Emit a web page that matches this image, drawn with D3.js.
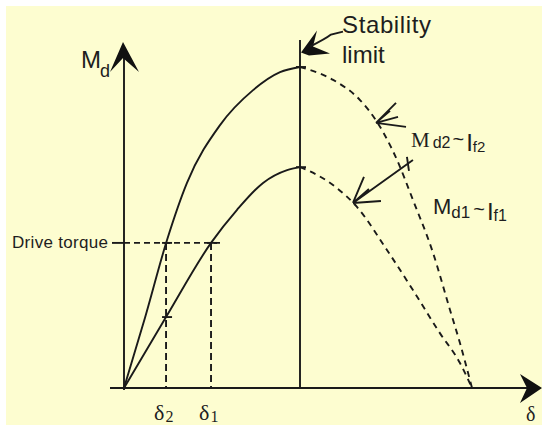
<!DOCTYPE html>
<html>
<head>
<meta charset="utf-8">
<script src="https://cdn.jsdelivr.net/npm/d3@7"></script>
<style>
  body { margin: 0; background: #fff; }
  svg { display: block; }
  .ink { stroke: #1a1a1a; fill: none; stroke-width: 1.9; }
</style>
</head>
<body>
<div id="chart"></div>
<script>
// load angle (deg) vs torque (normalised to the upper peak)
var upperRise = [[0,0],[10.7,0.218],[22,0.461],[32.2,0.639],[49.1,0.819],[66,0.928],[79.8,0.984],[90,1]]
var upperFall = [[90,1],[107.3,0.96],[121.4,0.897],[130.3,0.829],[140.8,0.71],[149.1,0.586],[159.6,0.421],[168.5,0.243],[173.7,0.14],[180,0]]
var lowerRise = [[0,0],[21.5,0.221],[44.5,0.452],[57.8,0.555],[71.1,0.639],[83.4,0.679],[90,0.688]]
var lowerFall = [[90,0.688],[98.9,0.664],[109.3,0.623],[119.8,0.564],[135.5,0.43],[149.1,0.305],[163.2,0.171],[173.7,0.078],[180,0]]

var driveTorque = 0.452
var delta2 = 21.5
var delta1 = 44.5
var stabilityAngle = 90

var width = 542, height = 425

var svg = d3.select('#chart').append('svg')
  .attr('width', width)
  .attr('height', height)

svg.append('rect').attr('width', width).attr('height', height).attr('fill', '#fff')
svg.append('rect').attr('x', 6).attr('y', 6)
  .attr('width', width - 6).attr('height', height - 6)
  .attr('fill', '#fdfdd0')

var x = d3.scaleLinear().domain([0, 90, 180]).range([124, 300, 472])
var y = d3.scaleLinear().domain([0, 1]).range([388, 67])

var line = d3.line()
  .x(function(d) { return x(d[0]) })
  .y(function(d) { return y(d[1]) })
  .curve(d3.curveMonotoneX)

// axes
svg.append('line').attr('class', 'ink')
  .attr('x1', x(0)).attr('x2', x(0)).attr('y1', y(0) + 2).attr('y2', 50)
svg.append('line').attr('class', 'ink')
  .attr('x1', 110).attr('x2', 530).attr('y1', y(0)).attr('y2', y(0))

// arrow heads of the axes
svg.append('path')
  .attr('d', 'M' + (x(0) - 1) + ',42 L' + (x(0) + 15) + ',72 L' + (x(0) - 1) + ',58 L' + (x(0) - 14) + ',72 Z')
  .attr('fill', '#111')
svg.append('path')
  .attr('d', 'M542,' + y(0) + ' L520,' + (y(0) - 14) + ' L527,' + y(0) + ' L520,' + (y(0) + 15) + ' Z')
  .attr('fill', '#111')

// stability limit
svg.append('line').attr('class', 'ink')
  .attr('x1', x(stabilityAngle)).attr('x2', x(stabilityAngle))
  .attr('y1', y(0)).attr('y2', y(1.084))

// curves
svg.append('path').datum(upperRise).attr('class', 'ink').attr('d', line)
svg.append('path').datum(lowerRise).attr('class', 'ink').attr('d', line)
svg.append('path').datum(upperFall).attr('class', 'ink').attr('stroke-dasharray', '6,5').attr('d', line)
svg.append('path').datum(lowerFall).attr('class', 'ink').attr('stroke-dasharray', '6,5').attr('d', line)

// drive torque construction
svg.append('line').attr('class', 'ink').attr('stroke-dasharray', '6,4')
  .attr('x1', x(0)).attr('x2', x(delta1) + 9)
  .attr('y1', y(driveTorque)).attr('y2', y(driveTorque))
svg.append('line').attr('class', 'ink')
  .attr('x1', x(0) - 12).attr('x2', x(0))
  .attr('y1', y(driveTorque)).attr('y2', y(driveTorque))
;[delta2, delta1].forEach(function(dl) {
  svg.append('line').attr('class', 'ink').attr('stroke-dasharray', '7,4')
    .attr('x1', x(dl)).attr('x2', x(dl))
    .attr('y1', y(driveTorque)).attr('y2', y(0))
})

// little tick marks where lines meet
var ticks = [[90, 1], [90, 0.688], [delta2, driveTorque], [delta1, driveTorque], [delta2, 0.221]]
ticks.forEach(function(t) {
  svg.append('line').attr('class', 'ink').attr('stroke-width', 1.5)
    .attr('x1', x(t[0]) - 4).attr('x2', x(t[0]) + 6)
    .attr('y1', y(t[1])).attr('y2', y(t[1]))
})

// annotation arrows
var tip = [x(stabilityAngle) + 1, y(1.045)]
svg.append('path')
  .attr('d', 'M' + tip[0] + ',' + tip[1] + ' L' + (tip[0] + 16) + ',' + (tip[1] - 22) +
    ' L' + (tip[0] + 12) + ',' + (tip[1] - 6) + ' L' + (tip[0] + 29) + ',' + (tip[1] + 1) +
    ' L' + (tip[0] + 8) + ',' + (tip[1] + 3) + ' Z')
  .attr('fill', '#111')
svg.append('path').attr('class', 'ink')
  .attr('d', 'M' + (tip[0] + 9) + ',' + (tip[1] - 6) + ' Q' + (tip[0] + 25) + ',' + (tip[1] - 14) + ' ' + (tip[0] + 30) + ',' + (tip[1] - 18) + ' L' + (tip[0] + 42) + ',' + (tip[1] - 21))

var tip2 = [x(130.3) - 1, y(0.829) + 1]
svg.append('path').attr('class', 'ink').attr('stroke-width', 1.7)
  .attr('d', 'M' + tip2[0] + ',' + tip2[1] + ' L' + (tip2[0] + 30) + ',' + (tip2[1] + 4) +
    ' M' + tip2[0] + ',' + tip2[1] + ' L' + (tip2[0] + 20) + ',' + (tip2[1] - 20) +
    ' M' + tip2[0] + ',' + tip2[1] + ' L' + (tip2[0] + 22) + ',' + (tip2[1] - 6) +
    ' M' + tip2[0] + ',' + tip2[1] + ' L' + (tip2[0] + 14) + ',' + (tip2[1] - 12))

var tip1 = [x(119.8) - 4, y(0.564) - 4]
svg.append('path').attr('class', 'ink').attr('stroke-width', 1.8)
  .attr('d', 'M' + tip1[0] + ',' + tip1[1] + ' L' + (tip1[0] + 60) + ',' + (tip1[1] - 43) +
    ' M' + tip1[0] + ',' + tip1[1] + ' L' + (tip1[0] + 11) + ',' + (tip1[1] - 26) +
    ' M' + tip1[0] + ',' + tip1[1] + ' L' + (tip1[0] + 28) + ',' + (tip1[1] - 2) +
    ' M' + tip1[0] + ',' + tip1[1] + ' L' + (tip1[0] + 16) + ',' + (tip1[1] - 14))
// small crossing tick on the upper dashed curve
svg.append('line').attr('class', 'ink').attr('stroke-width', 1.4)
  .attr('x1', tip1[0] + 54).attr('x2', tip1[0] + 56)
  .attr('y1', tip1[1] - 46).attr('y2', tip1[1] - 32)

// text
var sans = '"Liberation Sans", Arial, sans-serif'
var serif = '"Liberation Serif", "Times New Roman", serif'
var textInk = '#1e1e1e'

svg.append('text').attr('x', 342).attr('y', 33)
  .attr('font-family', sans).attr('font-size', 24).attr('fill', textInk)
  .attr('textLength', 89)
  .text('Stability')
svg.append('text').attr('x', 342).attr('y', 63)
  .attr('font-family', sans).attr('font-size', 24).attr('fill', textInk)
  .text('limit')

var md = svg.append('text').attr('x', 81).attr('y', 68)
  .attr('font-family', sans).attr('font-size', 24).attr('fill', textInk)
md.append('tspan').text('M')
md.append('tspan').attr('dx', -1).attr('dy', 9).attr('font-size', 18).text('d')

svg.append('text').attr('x', 12).attr('y', 248)
  .attr('font-family', sans).attr('font-size', 17).attr('fill', textInk)
  .attr('textLength', 96)
  .text('Drive torque')

var l2 = svg.append('text').attr('x', 411).attr('y', 147)
  .attr('font-family', serif).attr('font-size', 21).attr('fill', textInk)
l2.append('tspan').text('M')
l2.append('tspan').attr('dx', 3).attr('dy', 1).attr('font-family', sans).attr('font-size', 16).text('d2')
l2.append('tspan').attr('dx', 2).attr('dy', -2).attr('font-family', sans).attr('font-size', 20).text('~')
l2.append('tspan').attr('dx', 2).attr('dy', 5).attr('font-family', sans).attr('font-size', 24).text('I')
l2.append('tspan').attr('dy', 1).attr('font-family', sans).attr('font-size', 15).text('f2')

var l1 = svg.append('text').attr('x', 433).attr('y', 214)
  .attr('font-family', sans).attr('font-size', 22).attr('fill', textInk)
l1.append('tspan').text('M')
l1.append('tspan').attr('dy', 4).attr('font-size', 17).text('d1')
l1.append('tspan').attr('dx', 3).attr('dy', -2).attr('font-size', 20).text('~')
l1.append('tspan').attr('dx', 2).attr('dy', 4).attr('font-size', 24).text('I')
l1.append('tspan').attr('dy', 1).attr('font-size', 16).text('f1')

var deltaLabels = [[delta2, '2'], [delta1, '1']]
deltaLabels.forEach(function(d) {
  var t = svg.append('text').attr('x', x(d[0]) - 12).attr('y', 420)
    .attr('font-family', serif).attr('font-size', 22).attr('fill', textInk)
  t.append('tspan').text('δ')
  t.append('tspan').attr('dx', 1).attr('dy', 2).attr('font-size', 16).text(d[1])
})
svg.append('text').attr('x', 526).attr('y', 421)
  .attr('font-family', serif).attr('font-size', 20).attr('fill', textInk)
  .text('δ')
</script>
</body>
</html>
